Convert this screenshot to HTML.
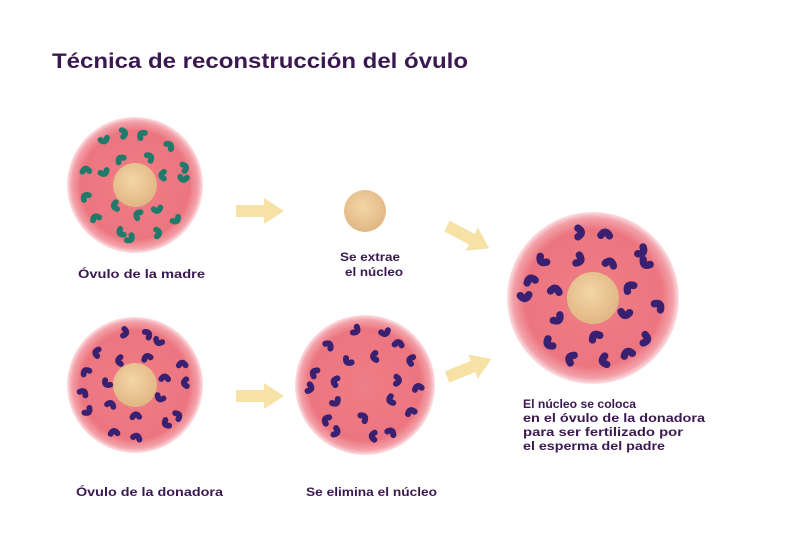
<!DOCTYPE html>
<html><head><meta charset="utf-8"><style>
body{margin:0;background:#fff;width:800px;height:533px;overflow:hidden}
svg{display:block}
text{font-family:"Liberation Sans",sans-serif;fill:#3a1850;font-weight:bold}
</style></head><body>
<svg id="s" width="800" height="533" viewBox="0 0 800 533">
<defs>
<radialGradient id="cell" cx="50%" cy="50%" r="50%">
<stop offset="0" stop-color="#ef7d86"/><stop offset="0.8" stop-color="#ec7580"/><stop offset="0.93" stop-color="#f3a0a8"/><stop offset="1" stop-color="#fbe0e3"/>
</radialGradient>
<radialGradient id="nuc" cx="45%" cy="40%" r="55%">
<stop offset="0" stop-color="#f3d6a6"/><stop offset="1" stop-color="#e2b986"/>
</radialGradient>
<g id="arr"><polygon points="0,-6 28,-6 28,-13 48,0 28,13 28,6 0,6" fill="#f7e2a6"/></g>
</defs>
<text x="52" y="68" font-size="21" textLength="416" lengthAdjust="spacingAndGlyphs">Técnica de reconstrucción del óvulo</text>
<g id="cells"></g>
<use href="#arr" x="236" y="211"/>
<use href="#arr" x="236" y="396"/>
<use href="#arr" transform="translate(447,226) rotate(28)"/>
<use href="#arr" transform="translate(447,377) rotate(-22)"/>
<circle cx="365" cy="211" r="21" fill="url(#nuc)"/>
<g font-size="12">
<text x="78" y="278" textLength="127" lengthAdjust="spacingAndGlyphs">Óvulo de la madre</text>
<text x="340" y="261" textLength="60" lengthAdjust="spacingAndGlyphs">Se extrae</text>
<text x="345" y="276" textLength="58" lengthAdjust="spacingAndGlyphs">el núcleo</text>
<text x="76" y="496" textLength="147" lengthAdjust="spacingAndGlyphs">Óvulo de la donadora</text>
<text x="306" y="496" textLength="131" lengthAdjust="spacingAndGlyphs">Se elimina el núcleo</text>
<text x="523" y="408" textLength="113" lengthAdjust="spacingAndGlyphs">El núcleo se coloca</text>
<text x="523" y="422" textLength="182" lengthAdjust="spacingAndGlyphs">en el óvulo de la donadora</text>
<text x="523" y="436" textLength="160" lengthAdjust="spacingAndGlyphs">para ser fertilizado por</text>
<text x="523" y="450" textLength="142" lengthAdjust="spacingAndGlyphs">el esperma del padre</text>
</g>
</svg>
<script>
var g=document.getElementById('cells'),ns='http://www.w3.org/2000/svg';
function el(t,a){var e=document.createElementNS(ns,t);for(var k in a)e.setAttribute(k,a[k]);g.appendChild(e);return e}
function cell(cx,cy,r,nr,col,seed){
 el('circle',{cx:cx,cy:cy,r:r,fill:'url(#cell)'});
 if(nr)el('circle',{cx:cx,cy:cy,r:nr,fill:'url(#nuc)'});
 var rings=[[0.45,7],[0.76,13]],s=seed;
 rings.forEach(function(rg){for(var i=0;i<rg[1];i++){s=(s*9301+49297)%233280;var j=s/233280;
  var a=i/rg[1]*6.283+j*0.4+rg[0]*3,rr=r*rg[0]+(j-0.5)*6,x=cx+rr*Math.cos(a),y=cy+rr*Math.sin(a),ro=j*360;
  var sc=r/70;
  el('path',{d:'M-3.5,-1.5 Q0,4 3.5,-1.5',transform:'translate('+x+','+y+') rotate('+ro+') scale('+sc+')',fill:'none',stroke:col,'stroke-width':6,'stroke-linecap':'round'});}});
}
cell(135,185,68,22,'#1f7a6a',3);
cell(135,385,68,22,'#3a2070',7);
cell(365,385,70,0,'#3a2070',11);
cell(593,298,86,26,'#3a2070',5);
</script>
</body></html>
